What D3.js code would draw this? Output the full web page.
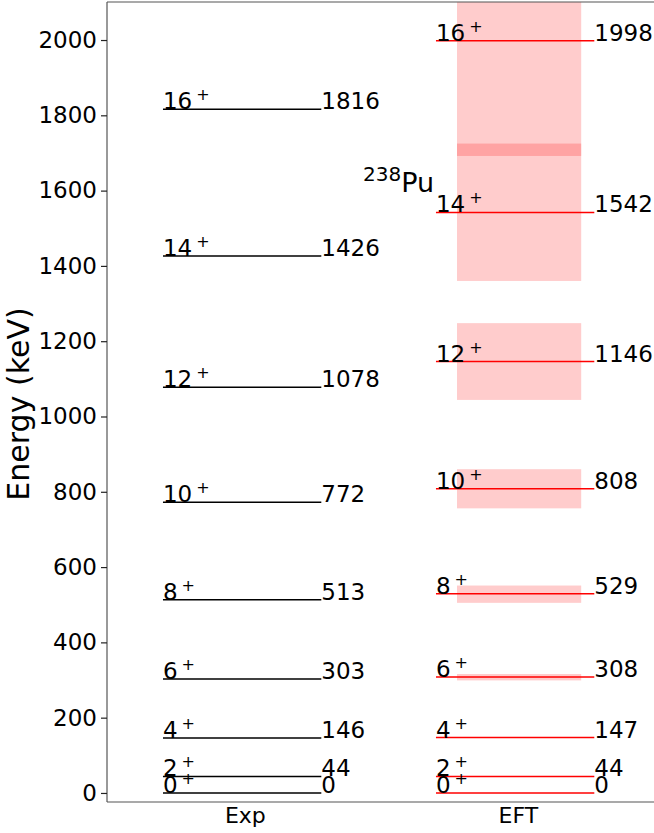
<!DOCTYPE html>
<html>
<head>
<meta charset="utf-8">
<script src="https://cdn.jsdelivr.net/npm/d3@7"></script>
<style>
  html, body { margin: 0; padding: 0; background: #fff; }
  svg { display: block; font-family: "DejaVu Sans", sans-serif; }
</style>
</head>
<body>
<svg id="chart" width="654" height="833"></svg>
<script>
// Level scheme of 238Pu ground-state band: experiment vs EFT
const categories = ["Exp", "EFT"];
const spins = ["0", "2", "4", "6", "8", "10", "12", "14", "16"];
const expEnergies = [0, 44, 146, 303, 513, 772, 1078, 1426, 1816];
const eftEnergies = [0, 44, 147, 308, 529, 808, 1146, 1542, 1998];
const eftLower = [0, 44, 147, 299, 505, 756, 1044, 1360, 1692];
const eftUpper = [0, 44, 147, 316, 551, 860, 1248, 1725, 2304];
const yTicks = [0, 200, 400, 600, 800, 1000, 1200, 1400, 1600, 1800, 2000];

const svg = d3.select("#chart");
const plot = { left: 107, right: 653, top: 2, bottom: 802 };

const x = d3.scaleLinear().domain([-0.505, 1.495]).range([plot.left, plot.right]);
const y = d3.scaleLinear().domain([-24, 2101]).range([plot.bottom, plot.top]);

svg.append("defs").append("clipPath").attr("id", "plotClip")
  .append("rect")
  .attr("x", plot.left).attr("y", plot.top)
  .attr("width", 700).attr("height", plot.bottom - plot.top);

const g = svg.append("g").attr("clip-path", "url(#plotClip)");

// uncertainty bands for the EFT levels
const bandL = -0.223, bandR = 0.232;
g.selectAll("rect.band")
  .data(spins.map((s, i) => ({ lo: eftLower[i], hi: eftUpper[i] })))
  .join("rect")
  .attr("class", "band")
  .attr("x", x(1 + bandL))
  .attr("width", x(1 + bandR) - x(1 + bandL))
  .attr("y", d => y(d.hi))
  .attr("height", d => y(d.lo) - y(d.hi))
  .attr("fill", "red")
  .attr("fill-opacity", 0.2);

// level lines and labels
const lineL = -0.3, lineR = 0.28;
const series = [
  { cat: 0, values: expEnergies, color: "black" },
  { cat: 1, values: eftEnergies, color: "red" }
];

series.forEach(s => {
  const grp = g.append("g");
  grp.selectAll("line")
    .data(s.values)
    .join("line")
    .attr("x1", x(s.cat + lineL))
    .attr("x2", x(s.cat + lineR))
    .attr("y1", d => y(d))
    .attr("y2", d => y(d))
    .attr("stroke", s.color)
    .attr("stroke-width", 1.5);

  // spin-parity labels
  const spinText = grp.selectAll("text.spin")
    .data(s.values)
    .join("text")
    .attr("class", "spin")
    .attr("x", x(s.cat + lineL))
    .attr("y", d => y(d))
    .attr("font-size", 23)
    .attr("fill", "black");
  spinText.append("tspan").text((d, i) => spins[i]);
  spinText.append("tspan").attr("dx", 4).attr("dy", -9).attr("font-size", 16).text("+");

  // energy values
  grp.selectAll("text.val")
    .data(s.values)
    .join("text")
    .attr("class", "val")
    .attr("x", x(s.cat + lineR))
    .attr("y", d => y(d))
    .attr("font-size", 23)
    .attr("fill", "black")
    .text(d => d);
});

// nucleus label
const nuc = svg.append("text")
  .attr("x", x(0.693))
  .attr("y", y(1596))
  .attr("text-anchor", "end")
  .attr("fill", "black");
nuc.append("tspan").attr("font-size", 20).attr("dy", -11).text("238");
nuc.append("tspan").attr("font-size", 27).attr("dy", 11).text("Pu");

// frame
const spine = "#555";
svg.append("line").attr("x1", plot.left).attr("x2", plot.left)
  .attr("y1", plot.top).attr("y2", plot.bottom).attr("stroke", spine).attr("stroke-width", 1.2);
svg.append("line").attr("x1", plot.left).attr("x2", 660)
  .attr("y1", plot.top).attr("y2", plot.top).attr("stroke", spine).attr("stroke-width", 1.2);
svg.append("line").attr("x1", plot.left).attr("x2", 660)
  .attr("y1", plot.bottom).attr("y2", plot.bottom).attr("stroke", spine).attr("stroke-width", 1.2);

// y axis
const yAxis = svg.append("g")
  .attr("transform", `translate(${plot.left},0)`)
  .call(d3.axisLeft(y).tickValues(yTicks).tickSize(6).tickPadding(4).tickFormat(d3.format("d")));
yAxis.select(".domain").remove();
yAxis.selectAll(".tick line").attr("stroke", "#222").attr("stroke-width", 1.2);
yAxis.selectAll(".tick text").attr("font-size", 23).attr("fill", "black")
  .attr("font-family", "DejaVu Sans, sans-serif");

// x axis categories
const xAxis = svg.append("g")
  .attr("transform", `translate(0,${plot.bottom})`)
  .call(d3.axisBottom(x).tickValues([0, 1]).tickSize(0).tickPadding(5)
    .tickFormat((d, i) => categories[i]));
xAxis.select(".domain").remove();
xAxis.selectAll(".tick text").attr("font-size", 22).attr("fill", "black")
  .attr("font-family", "DejaVu Sans, sans-serif");

// axis title
svg.append("text")
  .attr("transform", `translate(29,${(plot.top + plot.bottom) / 2 + 2}) rotate(-90)`)
  .attr("text-anchor", "middle")
  .attr("font-size", 30)
  .attr("fill", "black")
  .text("Energy (keV)");
</script>
</body>
</html>
